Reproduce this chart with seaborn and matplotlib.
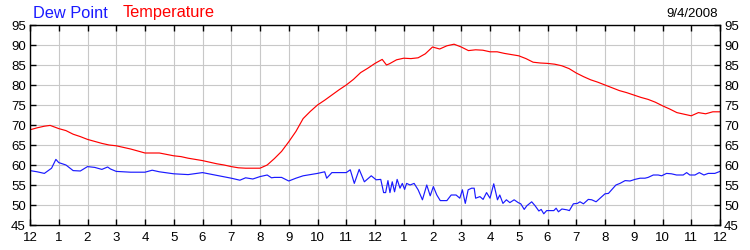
import matplotlib
matplotlib.use("Agg")
import matplotlib.pyplot as plt
import seaborn as sns
import pandas as pd

# ---- data (hours since midnight, degrees F) ----
temp_hours = [0, 0.25, 0.5, 0.7, 1.0, 1.25, 1.5, 1.75, 2.0, 2.25, 2.5, 2.75, 3.0, 3.25, 3.5, 3.75,
              4.0, 4.5, 5.0, 5.25, 5.5, 5.75, 6.0, 6.25, 6.5, 6.75, 7.0, 7.25, 7.5, 7.75, 8.0, 8.25,
              8.5, 8.75, 9.0, 9.25, 9.5, 9.75, 10.0, 10.25, 10.5, 10.75, 11.0, 11.25, 11.5, 11.75,
              12.0, 12.25, 12.4, 12.5, 12.75, 13.0, 13.25, 13.5, 13.75, 14.0, 14.25, 14.5, 14.75,
              15.0, 15.25, 15.5, 15.75, 16.0, 16.25, 16.5, 16.75, 17.0, 17.25, 17.5, 17.75, 18.0,
              18.25, 18.5, 18.75, 19.0, 19.25, 19.5, 19.75, 20.0, 20.25, 20.5, 20.75, 21.0, 21.25,
              21.5, 21.75, 22.0, 22.25, 22.5, 22.75, 23.0, 23.25, 23.5, 23.75, 24.0]
temp_vals = [68.8, 69.3, 69.7, 69.9, 69.1, 68.6, 67.7, 67.1, 66.4, 65.9, 65.4, 65.0, 64.8, 64.4, 64.0, 63.5,
             63.0, 63.0, 62.3, 62.1, 61.7, 61.4, 61.1, 60.7, 60.3, 60.0, 59.6, 59.3, 59.2, 59.2, 59.2, 60.0,
             61.6, 63.4, 65.8, 68.4, 71.6, 73.4, 75.0, 76.2, 77.5, 78.8, 80.0, 81.4, 83.1, 84.2,
             85.4, 86.4, 85.0, 85.3, 86.3, 86.7, 86.6, 86.8, 87.8, 89.5, 89.0, 89.8, 90.2,
             89.5, 88.6, 88.8, 88.7, 88.3, 88.3, 87.9, 87.6, 87.3, 86.6, 85.7, 85.5, 85.4,
             85.2, 84.8, 84.1, 83.0, 82.1, 81.3, 80.7, 80.0, 79.3, 78.6, 78.1, 77.5, 76.9,
             76.4, 75.7, 74.8, 74.0, 73.1, 72.7, 72.3, 73.1, 72.8, 73.3, 73.3]

dew_hours = [0, 0.25, 0.5, 0.75, 0.9, 1.0, 1.25, 1.5, 1.75, 2.0, 2.25, 2.5, 2.7, 2.8, 3.0, 3.5,
             4.0, 4.25, 4.5, 5.0, 5.5, 6.0, 6.5, 7.0, 7.3, 7.5, 7.75, 8.0, 8.25, 8.4, 8.5, 8.75,
             9.0, 9.25, 9.5, 10.0, 10.25, 10.32, 10.5, 11.0, 11.14, 11.28, 11.45, 11.63, 11.87, 12.04,
             12.2, 12.3, 12.37, 12.45, 12.52, 12.6, 12.68, 12.77, 12.87, 12.95, 13.03, 13.1, 13.22,
             13.36, 13.5, 13.65, 13.8, 13.92, 14.03, 14.15, 14.27, 14.39, 14.5, 14.65, 14.82, 14.95,
             15.04, 15.14, 15.24, 15.36, 15.45, 15.5, 15.65, 15.76, 15.88, 16.0, 16.13, 16.26, 16.34,
             16.45, 16.57, 16.69, 16.84, 16.98, 17.07, 17.19, 17.28, 17.45, 17.57, 17.7, 17.78, 17.87,
             17.97, 18.05, 18.22, 18.3, 18.38, 18.5, 18.67, 18.76, 18.9, 19.04, 19.13, 19.25, 19.42,
             19.54, 19.69, 19.83, 20.0, 20.12, 20.23, 20.38, 20.52, 20.7, 20.87, 21.04, 21.22, 21.39,
             21.5, 21.68, 21.85, 21.97, 22.14, 22.31, 22.49, 22.72, 22.84, 22.95, 23.13, 23.28, 23.44,
             23.59, 23.82, 24.0]
dew_vals = [58.6, 58.3, 57.9, 59.2, 61.4, 60.6, 60.0, 58.6, 58.5, 59.6, 59.4, 58.9, 59.5, 59.0, 58.4, 58.2,
            58.2, 58.7, 58.3, 57.8, 57.6, 58.1, 57.4, 56.7, 56.2, 56.8, 56.5, 57.1, 57.5, 56.8, 56.9, 56.9,
            56.0, 56.7, 57.3, 57.9, 58.3, 56.7, 58.1, 58.1, 58.8, 55.4, 58.9, 55.8, 57.3, 56.3,
            56.4, 53.1, 53.1, 56.1, 53.1, 55.8, 53.3, 56.4, 54.2, 55.4, 53.9, 55.4, 55.0,
            55.4, 53.8, 51.3, 55.0, 52.3, 54.6, 52.5, 51.1, 51.1, 51.1, 52.5, 52.5, 51.7,
            53.8, 50.4, 53.8, 54.2, 54.2, 51.7, 52.1, 51.4, 53.1, 51.7, 55.3, 51.3, 52.5,
            50.4, 51.3, 50.6, 51.3, 50.6, 50.3, 48.9, 49.8, 50.8, 49.8, 48.5, 48.9, 47.8,
            48.6, 48.6, 48.6, 49.2, 48.3, 49.0, 48.8, 48.6, 50.3, 50.4, 50.8, 50.3, 51.4,
            51.3, 50.8, 51.7, 52.8, 52.9, 53.8, 55.0, 55.4, 56.1, 56.0, 56.4, 56.7, 56.7,
            56.9, 57.5, 57.5, 57.3, 57.9, 57.8, 57.5, 57.5, 58.1, 57.5, 57.5, 58.1, 57.5,
            57.9, 57.9, 58.4]

x_ticklabels = ["12", "1", "2", "3", "4", "5", "6", "7", "8", "9", "10", "11",
                "12", "1", "2", "3", "4", "5", "6", "7", "8", "9", "10", "11", "12"]
y_ticks = [45, 50, 55, 60, 65, 70, 75, 80, 85, 90, 95]

dew_df = pd.DataFrame({"hour": dew_hours, "value": dew_vals})
temp_df = pd.DataFrame({"hour": temp_hours, "value": temp_vals})

sns.set_style("white")
plt.rcParams["font.family"] = ["Liberation Sans", "DejaVu Sans"]

fig = plt.figure(figsize=(7.5, 2.5), dpi=100)
ax = fig.add_axes([30 / 750, 25 / 250, 690 / 750, 200 / 250])

sns.lineplot(data=temp_df, x="hour", y="value", color="#FF0000", lw=0.85, ax=ax)
sns.lineplot(data=dew_df, x="hour", y="value", color="#1A1AFF", lw=0.85, ax=ax)

ax.set_xlim(0, 24)
ax.set_ylim(45, 95)
ax.set_xticks(range(25))
ax.set_xticklabels(x_ticklabels)
ax.set_yticks(y_ticks)
ax.set_xlabel("")
ax.set_ylabel("")
ax.grid(True, color="#C8C8C8", lw=0.8)
ax.set_axisbelow(True)
for s in ax.spines.values():
    s.set_color("black")
    s.set_linewidth(1.0)
    s.set_visible(True)
ax.tick_params(axis="both", direction="in", length=4, width=1, color="black",
               labelsize=9.5, labelcolor="black", top=True, right=True,
               labelright=True, bottom=True, left=True)
ax.tick_params(axis="x", pad=5)
ax.tick_params(axis="y", pad=3)

fig.text(33 / 750, 1 - 13 / 250, "Dew Point", color="#1A1AFF", fontsize=11.8, va="center", ha="left")
fig.text(123 / 750, 1 - 13 / 250, "Temperature", color="#FF0000", fontsize=11.8, va="center", ha="left")
fig.text(718 / 750, 1 - 14 / 250, "9/4/2008", color="black", fontsize=9.5, va="center", ha="right")

fig.savefig("out.png", dpi=100)
